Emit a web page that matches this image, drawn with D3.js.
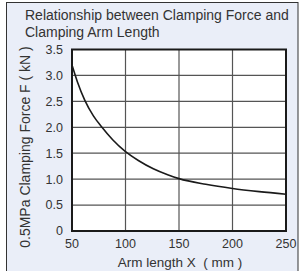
<!DOCTYPE html>
<html><head><meta charset="utf-8">
<script src="https://cdn.jsdelivr.net/npm/d3@7"></script>
<style>body{margin:0;background:#fff}svg{display:block}</style>
</head><body>
<script>
const titleLines = ["Relationship between Clamping Force and", "Clamping Arm Length"];
const yLabel = "0.5MPa Clamping Force F ( kN )";
const xLabel = "Arm length X  ( mm )";
const xTicks = [50, 100, 150, 200, 250];
const yTicks = [0, 0.5, 1.0, 1.5, 2.0, 2.5, 3.0, 3.5];
const yTickLabels = ["0", "0.5", "1.0", "1.5", "2.0", "2.5", "3.0", "3.5"];
const armLength = [50, 55, 62, 70, 78, 88, 100, 112, 126, 140, 150, 175, 200, 225, 250];
const force = [3.2, 2.88, 2.52, 2.22, 2.0, 1.76, 1.53, 1.36, 1.2, 1.08, 1.01, 0.9, 0.82, 0.76, 0.71];

const W = 303, H = 271;
const svg = d3.select("body").append("svg").attr("width", W).attr("height", H);
svg.append("rect").attr("x", 6.5).attr("y", 2.5).attr("width", 291.5).attr("height", 275)
  .attr("fill", "#eaeef8").attr("stroke", "#333").attr("stroke-width", 1);

const m = {l: 72, r: 286, t: 49.5, b: 231};
const x = d3.scaleLinear().domain([50, 250]).range([m.l, m.r]);
const y = d3.scaleLinear().domain([0, 3.5]).range([m.b, m.t]);

svg.append("rect").attr("x", m.l).attr("y", m.t).attr("width", m.r - m.l).attr("height", m.b - m.t).attr("fill", "#fff");

const grid = svg.append("g").attr("stroke", "#555").attr("stroke-width", 1.2);
grid.selectAll(".gx").data(xTicks.slice(1, -1)).join("line")
  .attr("x1", d => x(d)).attr("x2", d => x(d)).attr("y1", m.t).attr("y2", m.b);
grid.selectAll(".gy").data(yTicks.slice(1, -1)).join("line")
  .attr("x1", m.l).attr("x2", m.r).attr("y1", d => y(d)).attr("y2", d => y(d));

const line = d3.line().x((d, i) => x(armLength[i])).y(d => y(d)).curve(d3.curveMonotoneX);
svg.append("path").datum(force).attr("d", line).attr("fill", "none").attr("stroke", "#1a1a1a").attr("stroke-width", 1.6);

svg.append("rect").attr("x", m.l).attr("y", m.t).attr("width", m.r - m.l).attr("height", m.b - m.t)
  .attr("fill", "none").attr("stroke", "#1a1a1a").attr("stroke-width", 2);

const font = "'Liberation Sans', Arial, sans-serif";
const ty = svg.append("g").attr("font-family", font).attr("font-size", 12.5).attr("fill", "#333");
ty.selectAll("text").data(yTicks).join("text")
  .attr("x", m.l - 9).attr("y", d => y(d)).attr("dy", "0.35em").attr("text-anchor", "end")
  .text((d, i) => yTickLabels[i]);
const tx = svg.append("g").attr("font-family", font).attr("font-size", 12.5).attr("fill", "#333");
tx.selectAll("text").data(xTicks).join("text")
  .attr("x", d => x(d)).attr("y", m.b + 17).attr("text-anchor", "middle").text(d => d);

svg.append("text").attr("x", 180).attr("y", 267).attr("text-anchor", "middle").attr("xml:space", "preserve")
  .attr("font-family", font).attr("font-size", 13.5).attr("fill", "#333").text(xLabel);
svg.append("text").attr("transform", "translate(30,147) rotate(-90)").attr("text-anchor", "middle")
  .attr("font-family", font).attr("font-size", 14).attr("fill", "#333").text(yLabel);

svg.append("g").attr("font-family", font).attr("font-size", 14).attr("fill", "#333")
  .selectAll("text").data(titleLines).join("text")
  .attr("x", 25).attr("y", (d, i) => 20 + i * 17).text(d => d);
</script>
</body></html>
